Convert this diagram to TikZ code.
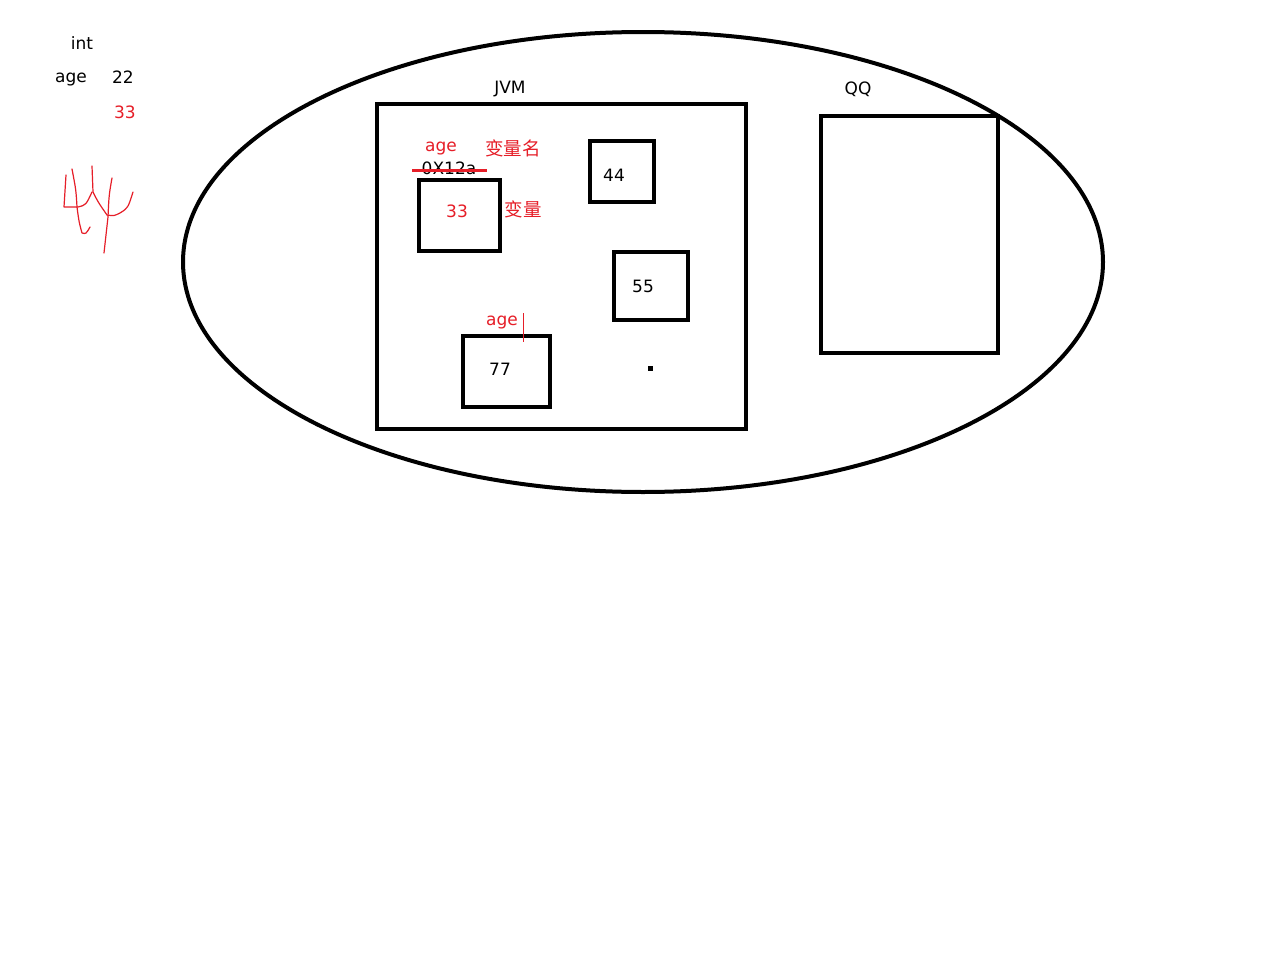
\documentclass[tikz,border=0pt]{standalone}
\usepackage{fontspec}
\setmainfont{DejaVu Sans}
\newfontfamily\cjk{Noto Sans CJK SC}
\definecolor{pred}{RGB}{230,30,40}
\begin{document}
\begin{tikzpicture}[x=1pt,y=-1pt,
  thick box/.style={draw=black,line width=4pt},
  lbl/.style={inner sep=0pt,font=\fontsize{17}{19}\selectfont},
  rlbl/.style={lbl,text=pred},
  clbl/.style={inner sep=0pt,text=pred,font=\cjk\fontsize{18.5}{20}\selectfont},
  scrib/.style={draw=pred,line width=1.2pt,line cap=round,line join=round}]
\useasboundingbox[fill=white] (0,0) rectangle (1261,953);
% ellipse
\draw[line width=4pt] (643,262) ellipse [x radius=460,y radius=230];
% containers
\node[thick box,minimum width=369pt,minimum height=325pt,inner sep=0pt,anchor=north west] (jvm) at (375,102) {};
\node[thick box,minimum width=177pt,minimum height=237pt,inner sep=0pt,anchor=north west] (qq) at (819,114) {};
\node[thick box,minimum width=81pt,minimum height=71pt,inner sep=0pt,anchor=north west] (b33) at (417,178) {};
\node[thick box,minimum width=64pt,minimum height=61pt,inner sep=0pt,anchor=north west] (b44) at (588,139) {};
\node[thick box,minimum width=74pt,minimum height=68pt,inner sep=0pt,anchor=north west] (b55) at (612,250) {};
\node[thick box,minimum width=87pt,minimum height=71pt,inner sep=0pt,anchor=north west] (b77) at (461,334) {};
\node[fill=black,minimum size=5pt,inner sep=0pt] (dot) at (650,368) {};
% titles
\node[lbl] (tjvm) at (510,89) {JVM};
\node[lbl] (tqq) at (858,89) {QQ};
% left notes
\node[lbl] (tint) at (82,43) {int};
\node[lbl] (tage) at (71,80) {age};
\node[lbl] (t22) at (123,77) {22};
\node[rlbl] (t33) at (125,112) {33};
% box texts
\node[rlbl] (nage) at (441,149) {age};
\node[clbl] (nvarname) at (513,148) {变量名};
\node[lbl] (naddr) at (449,168) {0X12a};
\draw[pred,line width=3pt] (412,170) coordinate (s1) -- (487,170) coordinate (s2);
\node[rlbl] (v33) at (457,211) {33};
\node[clbl] (nvar) at (523,209) {变量};
\node[lbl] (v44) at (614,175) {44};
\node[lbl] (v55) at (643,286) {55};
\node[lbl] (v77) at (500,369) {77};
\node[rlbl] (nage2) at (502,323) {age};
\draw[pred,line width=0.8pt] (523,313) coordinate (c1) -- (523,342) coordinate (c2);
% red scribble
\draw[scrib] (66,175) -- (64,207) -- (78,207) .. controls (86,205) .. (92,192);
\draw[scrib] (72,169) .. controls (76,190) .. (77,207) .. controls (79,222) .. (82,233) .. controls (86,234) .. (90,227);
\draw[scrib] (92,166) -- (93,192) .. controls (98,202) .. (107,215);
\draw[scrib] (112,178) .. controls (109,195) .. (108,217) -- (104,253);
\draw[scrib] (107,215) .. controls (114,216) .. (120,213) .. controls (128,208) .. (133,192);
\end{tikzpicture}
\end{document}
